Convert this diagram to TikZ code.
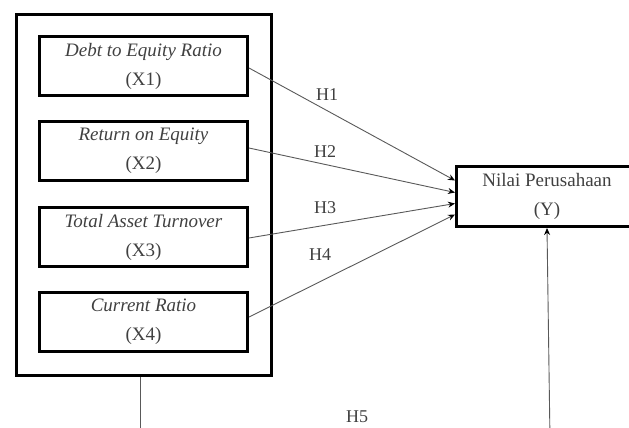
\documentclass[tikz,border=0pt]{standalone}
\usepackage{fontspec}
\setmainfont{Liberation Serif}
\usetikzlibrary{arrows.meta}
\begin{document}
\begin{tikzpicture}[x=1pt,y=-1pt,
  thickbox/.style={draw=black,line width=3pt,rectangle,inner sep=0pt},
  varbox/.style={thickbox,minimum width=208pt,minimum height=59pt,align=center,
    font=\fontsize{19}{29}\selectfont,text=black!75},
  conn/.style={draw=black!65,line width=0.9pt,-{Stealth[length=7pt,width=6pt,black]}},
  plain/.style={draw=black!65,line width=0.9pt},
  hlab/.style={font=\fontsize{18}{20}\selectfont,text=black!75,inner sep=0pt}]
\useasboundingbox (0,0) rectangle (629,428);
\clip (0,0) rectangle (629,428);
\node[thickbox,minimum width=255pt,minimum height=361pt] (outer) at (144,195) {};
\node[varbox] (x1) at (143.5,66) {\textit{Debt to Equity Ratio}\\(X1)};
\node[varbox] (x2) at (143.5,151) {\textit{Return on Equity}\\(X2)};
\node[varbox] (x3) at (143.5,237) {\textit{Total Asset Turnover}\\(X3)};
\node[varbox] (x4) at (143.5,322) {\textit{Current Ratio}\\(X4)};
\node[thickbox,minimum width=181pt,minimum height=60pt,align=center,
  font=\fontsize{19}{29}\selectfont,text=black!75] (y) at (547,196.5) {Nilai Perusahaan\\(Y)};
\draw[conn] ([yshift=-2pt]x1.east) -- ([yshift=16pt]y.west);
\draw[conn] ([yshift=3pt]x2.east) -- ([yshift=4pt]y.west);
\draw[conn] ([yshift=-1pt]x3.east) -- ([yshift=-7pt]y.west);
\draw[conn] ([yshift=5pt]x4.east) -- ([yshift=-18pt]y.west);
\node[hlab] (h1) at (327,95) {H1};
\node[hlab] (h2) at (325,152) {H2};
\node[hlab] (h3) at (325,208) {H3};
\node[hlab] (h4) at (320,255) {H4};
\node[hlab] (h5) at (357,417) {H5};
\coordinate (bl) at (140,440);
\coordinate (br) at (550,440);
\draw[plain] (outer.south -| bl) -- (bl);
\draw[conn] (br) -- (y.south);
\end{tikzpicture}
\end{document}
